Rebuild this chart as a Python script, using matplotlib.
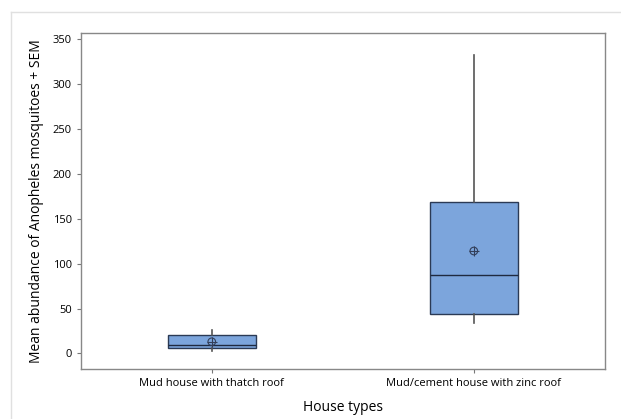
import matplotlib.pyplot as plt
from matplotlib.lines import Line2D

plt.rcParams['font.family'] = ['Open Sans', 'DejaVu Sans']

# data
categories = ['Mud house with thatch roof', 'Mud/cement house with zinc roof']
whislo = [3, 34]
q1 = [6.5, 44]
med = [9, 87]
q3 = [21, 168]
whishi = [26, 332]
means = [13, 114]
yticks = [0, 50, 100, 150, 200, 250, 300, 350]

stats = []
for i in range(len(categories)):
    stats.append({'whislo': whislo[i], 'q1': q1[i], 'med': med[i], 'q3': q3[i],
                  'whishi': whishi[i], 'mean': means[i], 'fliers': []})

fig = plt.figure(figsize=(6.21, 4.19), dpi=100)
# thin frame lines (top and left) like the screenshot
fig.lines.append(Line2D([0.018, 1.0], [0.971, 0.971], transform=fig.transFigure,
                        color='#e0e0e0', linewidth=1))
fig.lines.append(Line2D([0.018, 0.018], [0.0, 0.971], transform=fig.transFigure,
                        color='#e0e0e0', linewidth=1))
ax = fig.add_axes([0.130, 0.120, 0.844, 0.802])

ax.bxp(stats, positions=[1, 2], widths=0.336, showmeans=False, showcaps=False,
       patch_artist=True,
       boxprops=dict(facecolor='#7ca5dc', edgecolor='#2b3a55', linewidth=1),
       medianprops=dict(color='#1f2a40', linewidth=1),
       whiskerprops=dict(color='#555555', linewidth=1.2))

x = [1, 2]
ax.scatter(x, means, s=30, facecolor='none', edgecolor='#333f5a', linewidth=0.8, zorder=5)
ax.scatter(x, means, s=55, marker='+', color='#333f5a', linewidth=0.8, zorder=5)

ax.set_xlim(0.5, 2.5)
ax.set_ylim(-17, 357)
ax.set_yticks(yticks)
ax.set_xticks(x)
ax.set_xticklabels(categories, fontsize=8)
ax.tick_params(axis='y', labelsize=8, length=3, color='#777777')
ax.tick_params(axis='x', length=3, color='#777777')
for s in ax.spines.values():
    s.set_color('#888888')
    s.set_linewidth(1)

ax.set_xlabel('House types', fontsize=10, labelpad=8)
ax.set_ylabel('Mean abundance of Anopheles mosquitoes + SEM', fontsize=10, labelpad=6)

fig.savefig('out.png', dpi=100)
